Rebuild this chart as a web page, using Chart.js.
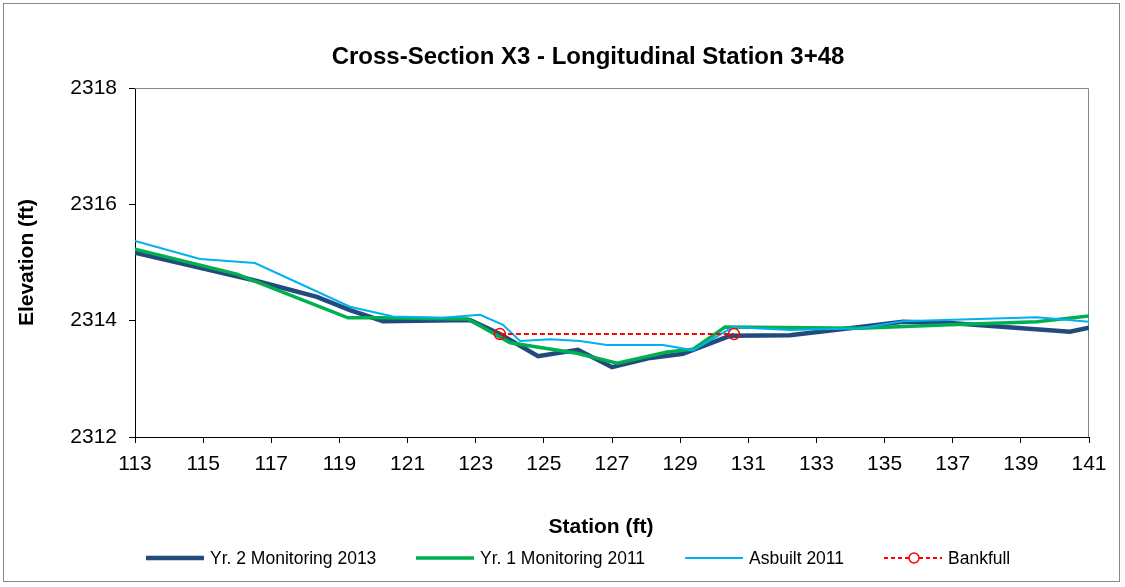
<!DOCTYPE html>
<html>
<head>
<meta charset="utf-8">
<script src="https://cdn.jsdelivr.net/npm/chart.js@4.4.1/dist/chart.umd.min.js"></script>
<style>
  html, body { margin: 0; padding: 0; background: #fff; }
  #wrap { position: relative; width: 1125px; height: 587px; overflow: hidden; font-family: 'Liberation Sans', Arial, sans-serif; }
  #frame { position: absolute; left: 3px; top: 3px; width: 1117px; height: 579px; border: 1px solid #868686; box-sizing: border-box; pointer-events: none; }
  #c { position: absolute; left: 0; top: 0; }
  .lg { position: absolute; top: 547px; height: 22px; display: flex; align-items: center; font-size: 17.5px; color: #000; white-space: nowrap; }
  .lg svg { display: block; margin-right: 6px; }
</style>
</head>
<body>
<div id="wrap">
  <canvas id="c" width="1125" height="587"></canvas>
  <div id="frame"></div>
  <div class="lg" style="left:146px"><svg width="58" height="22"><line x1="0" y1="11" x2="58" y2="11" stroke="#234A7D" stroke-width="4.5"/></svg><span>Yr. 2 Monitoring 2013</span></div>
  <div class="lg" style="left:416px"><svg width="58" height="22"><line x1="0" y1="11" x2="58" y2="11" stroke="#00B050" stroke-width="3.5"/></svg><span>Yr. 1 Monitoring 2011</span></div>
  <div class="lg" style="left:685px"><svg width="58" height="22"><line x1="0" y1="11" x2="58" y2="11" stroke="#00B0F0" stroke-width="2"/></svg><span>Asbuilt 2011</span></div>
  <div class="lg" style="left:884px"><svg width="58" height="22"><line x1="0" y1="11" x2="58" y2="11" stroke="#FF0000" stroke-width="2" stroke-dasharray="4,3"/><circle cx="30" cy="11" r="5" fill="#fff" stroke="#FF0000" stroke-width="1.5"/></svg><span>Bankfull</span></div>
</div>
<script>
// ---- Data ----
const stationYr2 = [113.0, 116.46, 118.34, 119.31, 120.28, 122.83, 123.71, 124.83, 126.0, 127.0, 128.12, 129.08, 130.46, 132.22, 134.28, 135.54, 136.92, 140.44, 141.0];
const elevYr2    = [2315.17, 2314.70, 2314.41, 2314.18, 2313.99, 2314.01, 2313.77, 2313.39, 2313.50, 2313.20, 2313.36, 2313.43, 2313.74, 2313.75, 2313.89, 2313.98, 2313.96, 2313.81, 2313.88];

const stationYr1 = [113.0, 115.99, 119.25, 120.19, 122.77, 124.01, 125.97, 127.15, 128.62, 129.38, 130.32, 134.28, 136.92, 139.47, 141.0];
const elevYr1    = [2315.23, 2314.80, 2314.05, 2314.05, 2314.03, 2313.62, 2313.44, 2313.27, 2313.46, 2313.51, 2313.89, 2313.87, 2313.93, 2313.98, 2314.08];

const stationAsbuilt = [113.0, 114.91, 116.52, 119.31, 120.57, 122.01, 123.13, 123.80, 124.30, 125.18, 126.06, 126.85, 128.50, 129.38, 130.55, 132.22, 134.28, 135.54, 139.47, 141.0];
const elevAsbuilt    = [2315.37, 2315.06, 2314.99, 2314.24, 2314.07, 2314.05, 2314.10, 2313.93, 2313.65, 2313.68, 2313.65, 2313.58, 2313.58, 2313.49, 2313.89, 2313.84, 2313.87, 2313.99, 2314.06, 2313.98];

const stationBankfull = [123.71, 130.58];
const elevBankfull    = [2313.77, 2313.77];

const xTickValues = [113, 115, 117, 119, 121, 123, 125, 127, 129, 131, 133, 135, 137, 139, 141];
const yTickValues = [2312, 2314, 2316, 2318];

const seriesNames = ['Yr. 2 Monitoring 2013', 'Yr. 1 Monitoring 2011', 'Asbuilt 2011', 'Bankfull'];
const chartTitle = 'Cross-Section X3 - Longitudinal Station 3+48';
const xTitle = 'Station (ft)';
const yTitle = 'Elevation (ft)';

function pts(xs, ys) { return xs.map((x, i) => ({ x: x, y: ys[i] })); }

const FONT = "'Liberation Sans', Arial, sans-serif";

const plotFrame = {
  id: 'plotFrame',
  beforeDatasetsDraw(chart) {
    const { ctx, chartArea: a } = chart;
    ctx.save();
    ctx.strokeStyle = '#868686';
    ctx.lineWidth = 1;
    ctx.beginPath();
    ctx.moveTo(a.left, a.top + 0.5);
    ctx.lineTo(a.right - 0.5, a.top + 0.5);
    ctx.lineTo(a.right - 0.5, a.bottom);
    ctx.stroke();
    ctx.restore();
  },
  afterDraw(chart) {
    const { ctx } = chart;
    ctx.save();
    ctx.fillStyle = '#000';
    ctx.textAlign = 'center';
    ctx.textBaseline = 'middle';
    ctx.font = "bold 24px " + FONT;
    ctx.fillText(chartTitle, 588, 57);
    ctx.font = "bold 21px " + FONT;
    ctx.fillText(xTitle, 601, 527);
    ctx.restore();
  }
};

new Chart(document.getElementById('c'), {
  type: 'line',
  data: {
    datasets: [
      { label: seriesNames[0], data: pts(stationYr2, elevYr2), borderColor: '#234A7D', borderWidth: 4.5, pointRadius: 0, tension: 0, order: 4, fill: false },
      { label: seriesNames[1], data: pts(stationYr1, elevYr1), borderColor: '#00B050', borderWidth: 3.5, pointRadius: 0, tension: 0, order: 3, fill: false },
      { label: seriesNames[2], data: pts(stationAsbuilt, elevAsbuilt), borderColor: '#00B0F0', borderWidth: 2, pointRadius: 0, tension: 0, order: 2, fill: false },
      { label: seriesNames[3], data: pts(stationBankfull, elevBankfull), borderColor: '#FF0000', borderWidth: 2, borderDash: [5, 3],
        pointRadius: 5.5, pointStyle: 'circle', pointBackgroundColor: 'rgba(0,0,0,0)', pointBorderColor: '#FF0000', pointBorderWidth: 1.5, tension: 0, order: 1, fill: false }
    ]
  },
  options: {
    responsive: false,
    animation: false,
    devicePixelRatio: 1,
    layout: { padding: { left: 0, right: 36, top: 88, bottom: 0 } },
    plugins: {
      legend: { display: false },
      tooltip: { enabled: false },
      title: { display: false }
    },
    scales: {
      x: {
        type: 'linear', min: 113, max: 141,
        afterBuildTicks: (s) => { s.ticks = xTickValues.map(v => ({ value: v })); },
        afterFit: (s) => { s.height = 150; },
        ticks: { color: '#000', font: { family: FONT, size: 21 }, padding: 9, maxRotation: 0, autoSkip: false, callback: (v) => String(v) },
        grid: { drawOnChartArea: false, drawTicks: true, tickLength: 6, color: '#000' },
        border: { display: true, color: '#000', width: 1 },
        title: { display: false, text: xTitle }
      },
      y: {
        type: 'linear', min: 2312, max: 2318,
        afterBuildTicks: (s) => { s.ticks = yTickValues.map(v => ({ value: v })); },
        afterFit: (s) => { s.width = 135; },
        ticks: { color: '#000', font: { family: FONT, size: 21 }, padding: 12, callback: (v) => String(v) },
        grid: { drawOnChartArea: false, drawTicks: true, tickLength: 6, color: '#000' },
        border: { display: true, color: '#000', width: 1 },
        title: { display: true, text: yTitle, color: '#000', font: { family: FONT, size: 21, weight: 'bold' }, padding: { top: 15, bottom: 0 } }
      }
    }
  },
  plugins: [plotFrame]
});
</script>
</body>
</html>
